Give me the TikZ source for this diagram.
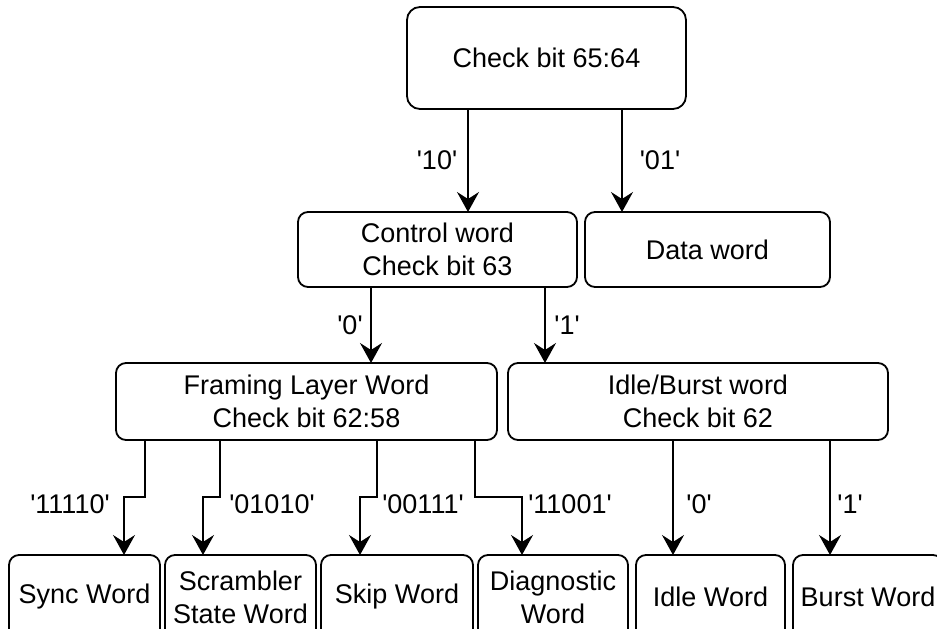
\documentclass[tikz,border=0pt]{standalone}
\usepackage{fontspec}
\setmainfont{Liberation Sans}
\usetikzlibrary{positioning,arrows.meta}

\newcommand{\bitq}[1]{\textquotesingle#1\textquotesingle}

\begin{document}
\begin{tikzpicture}
            [
            word/.style={rectangle, draw, rounded corners=10pt, line width=1.8pt,
                inner sep=0pt, outer sep=0pt, align=center,
                font=\fontsize{27pt}{33pt}\selectfont},
            lbl/.style={inner sep=0pt, font=\fontsize{27pt}{33pt}\selectfont},
            link/.style={-{Stealth[length=20pt, width=22pt, inset=7pt]}, line width=1.8pt}
            ]
            \useasboundingbox (0,0) rectangle (937pt,-629pt);

            \node (top) [word, minimum width=279pt, minimum height=102pt,
                rounded corners=13pt] at (546.5pt,-58pt) {Check bit 65:64};
            \node (ctrl) [word, minimum width=279pt, minimum height=75pt,
                below=103pt of top.south west, anchor=north west, xshift=-109pt]
                {Control word\\Check bit 63};
            \node (data) [word, minimum width=245pt, minimum height=75pt,
                right=8pt of ctrl] {Data word};

            % Second level
            \node (frame) [word, minimum width=381pt, minimum height=77pt,
                below=76pt of ctrl.south west, anchor=north west, xshift=-182pt]
                {Framing Layer Word\\Check bit 62:58};
            \node (idleb) [word, minimum width=380pt, minimum height=77pt,
                right=11pt of frame] {Idle/Burst word\\Check bit 62};

            % Bottom row
            \node (sync) [word, minimum width=151pt, minimum height=84pt,
                below=115pt of frame.south west, anchor=north west, xshift=-107pt]
                {Sync Word};
            \node (scr) [word, minimum width=151pt, minimum height=84pt,
                right=5pt of sync] {Scrambler\\State Word};
            \node (skip) [word, minimum width=152pt, minimum height=84pt,
                right=5pt of scr] {Skip Word};
            \node (diag) [word, minimum width=150pt, minimum height=84pt,
                right=5pt of skip] {Diagnostic\\Word};
            \node (idlew) [word, minimum width=149pt, minimum height=84pt,
                right=8pt of diag] {Idle Word};
            \node (burst) [word, minimum width=150pt, minimum height=84pt,
                right=8pt of idlew] {Burst Word};

            \foreach \from/\to/\dx/\lx/\ly/\lab in {top/ctrl/-78.5/-31/-51/10,
                top/data/75.5/38/-51/01, ctrl/frame/-66.5/-21/-38/0,
                ctrl/idleb/107.5/22/-38/1, idleb/idlew/-25/26/-64/0,
                idleb/burst/132/20/-64/1}
            {
            \coordinate (s) at ([xshift=\dx pt]\from.south);
            \draw [link] (s) -- (s |- \to.north);
            \node (l-\to) [lbl] at ([shift={(\lx pt,\ly pt)}]s) {\bitq{\lab}};
            }

            % Elbow connectors out of the framing word
            \foreach \to/\xu/\xl/\lx/\lab in {sync/29/115/-46/11110,
                scr/104/38/156/01010, skip/261/39/307/00111, diag/359/44/454/11001}
            {
            \draw [link] ([xshift=\xu pt]frame.south west) -- ++(0,-57pt)
                -| ([xshift=\xl pt]\to.north west);
            \node (l-\to) [lbl] at ([shift={(\lx pt,-64pt)}]frame.south west)
                {\bitq{\lab}};
            }
        \end{tikzpicture}
\end{document}
